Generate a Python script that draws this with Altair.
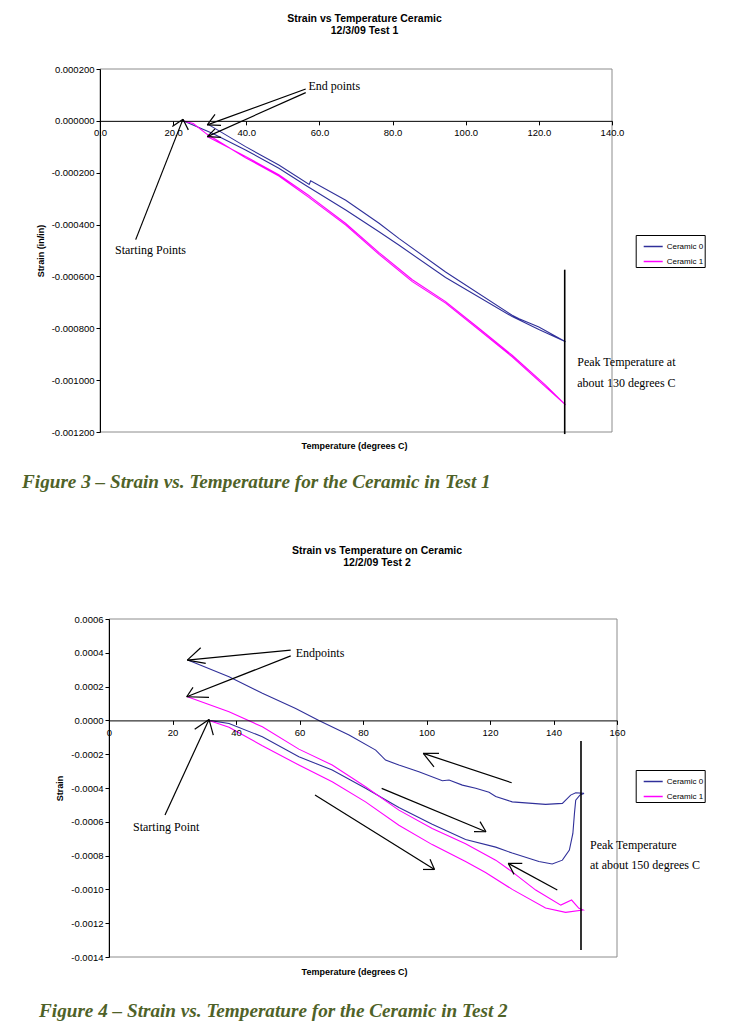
import altair as alt
import pandas as pd

SERIES = ["Ceramic 0", "Ceramic 1"]
COLORS = ["#30309a", "#ff00ff"]

# ---------------- Test 1 (12/3/09) ----------------
T1_C0_TEMP = [22.7, 30.7, 39.8, 48.9, 56.2, 67.2, 76.3, 81.8, 94.5, 112.7, 120.0, 127.3,
              120.0, 114.6, 112.7, 94.5, 81.8, 76.3, 67.2, 57.6, 57.2, 48.9, 39.8, 29.8]
T1_C0_STRAIN = [0.0, -0.000048, -0.000112, -0.000183, -0.000248, -0.000344, -0.000428, -0.00048,
                -0.000604, -0.000755, -0.000805, -0.000852,
                -0.000795, -0.000763, -0.00075, -0.000583, -0.000454, -0.000395, -0.000306,
                -0.000231, -0.000245, -0.00017, -0.0000994, -0.0000155]
T1_C1_TEMP = [22.7, 25.5, 29.3, 39.8, 48.9, 57.1, 67.2, 76.3, 85.4, 94.5, 103.6, 112.7, 121.9, 127.3,
              121.9, 112.7, 103.6, 94.5, 85.4, 76.3, 67.2, 58.0, 57.1, 48.9, 39.8, 29.3]
T1_C1_STRAIN = [0.0, -0.00001, -0.000052, -0.000142, -0.000213, -0.000295, -0.000402, -0.000515,
                -0.00062, -0.000703, -0.000806, -0.00091, -0.001027, -0.001095,
                -0.00102, -0.000904, -0.0008, -0.000697, -0.000613, -0.000508, -0.000396,
                -0.000298, -0.000288, -0.000208, -0.000137, -0.00006]
T1_X_TICKS = [0, 20, 40, 60, 80, 100, 120, 140]
T1_Y_TICKS = [0.0002, 0.0, -0.0002, -0.0004, -0.0006, -0.0008, -0.001, -0.0012]

# arrows: shafts and heads
T1_SEG_X = [56.25, 29.34, 29.34, 56.25, 29.34, 29.34, 9.76, 22.7, 22.7]
T1_SEG_Y = [0.000123, -0.0000155, -0.0000155, 0.000109, -0.0000607, -0.0000607, -0.000458, 0.0000066, 0.0000066]
T1_SEG_X2 = [29.34, 31.45, 33.09, 29.34, 31.45, 33.09, 22.7, 19.77, 24.15]
T1_SEG_Y2 = [-0.0000155, 0.0000251, -0.0000174, -0.0000607, -0.0000309, -0.0000638, 0.0000066, -0.000022, -0.0000348]
T1_PEAK = [127.07, -0.000574, -0.001208]
T1_NOTE_TEXT = ["End points", "Starting Points", "Peak Temperature at", "about 130 degrees C"]
T1_NOTE_X = [57.0, 4.1, 130.5, 130.5]
T1_NOTE_Y = [0.000135, -0.000499, -0.000931, -0.001011]

# ---------------- Test 2 (12/2/09) ----------------
T2_C0_TEMP = [31.5, 37.8, 48.3, 59.8, 70.3, 80.8, 91.3, 101.8, 112.3, 121.8, 127.0, 135.4, 139.6,
              142.8, 145.0, 146.1, 146.6, 147.0, 148.3, 149.6,
              147.0, 145.4, 142.8, 137.5, 127.0, 121.8, 119.7, 115.5, 111.3, 107.1, 105.0, 97.6,
              91.3, 87.1, 84.0, 75.6, 66.1, 58.8, 48.3, 37.8, 25.2]
T2_C0_STRAIN = [0.0, -0.000018, -0.000097, -0.000215, -0.000294, -0.000402, -0.000515, -0.000615,
                -0.000705, -0.00075, -0.000785, -0.000835, -0.00085,
                -0.000827, -0.000767, -0.000669, -0.00055, -0.000472, -0.000442, -0.000432,
                -0.000428, -0.000442, -0.000491, -0.000497, -0.000482, -0.00045, -0.000425,
                -0.000402, -0.000383, -0.000353, -0.000357, -0.000304, -0.000264, -0.000235,
                -0.000176, -0.000087, 0.0, 0.000071, 0.00016, 0.000258, 0.000355]
T2_C1_TEMP = [31.5, 37.8, 48.3, 59.8, 70.3, 80.8, 91.3, 101.8, 112.3, 118.6, 127.0, 137.5, 143.8, 149.3,
              148.0, 145.7, 142.3, 134.4, 127.0, 121.8, 112.3, 101.8, 91.3, 80.8, 70.3, 59.8, 48.3, 37.8, 24.7]
T2_C1_STRAIN = [0.0, -0.00004, -0.00015, -0.000264, -0.000363, -0.000482, -0.00062, -0.000735,
                -0.000835, -0.0009, -0.001, -0.00111, -0.001136, -0.001122,
                -0.001112, -0.001063, -0.001093, -0.001004, -0.000896, -0.000827, -0.00073,
                -0.00064, -0.000531, -0.000393, -0.000264, -0.00017, -0.000038, 0.000051, 0.00014]
T2_X_TICKS = [0, 20, 40, 60, 80, 100, 120, 140, 160]
T2_Y_TICKS = [0.0006, 0.0004, 0.0002, 0.0, -0.0002, -0.0004, -0.0006, -0.0008, -0.001, -0.0012, -0.0014]

T2_SEG_X = [57.23, 24.66, 24.66, 57.23, 24.47, 24.47, 17.64, 31.5, 31.5,
            126.83, 98.99, 98.99, 85.89, 118.74, 118.74, 64.88, 102.52, 102.52, 141.2, 125.76, 125.76]
T2_SEG_Y = [0.000416, 0.000357, 0.000357, 0.000382, 0.00014, 0.00014, -0.00056, 0.000006, 0.000006,
            -0.000369, -0.000195, -0.000195, -0.000402, -0.000659, -0.000659, -0.000442, -0.000882, -0.000882,
            -0.001004, -0.000846, -0.000846]
T2_SEG_X2 = [24.66, 28.88, 30.46, 24.47, 26.46, 31.5, 31.5, 26.99, 32.85,
             98.99, 103.94, 102.36, 118.74, 116.85, 114.96, 102.52, 101.1, 98.9, 125.76, 130.17, 127.56]
T2_SEG_Y2 = [0.000357, 0.00043, 0.000337, 0.00014, 0.000195, 0.000136, 0.000006, -0.000053, -0.000087,
             -0.000195, -0.000195, -0.000275, -0.000659, -0.000599, -0.000658, -0.000882, -0.000821, -0.000882,
             -0.000846, -0.000846, -0.000911]
T2_PEAK = [148.66, -0.000122, -0.001359]
T2_NOTE_TEXT = ["Endpoints", "Starting Point", "Peak Temperature", "at about 150 degrees C"]
T2_NOTE_X = [58.8, 7.56, 151.5, 151.5]
T2_NOTE_Y = [0.0004, -0.00063, -0.000738, -0.000856]

CAPTION_1 = "Figure 3 \u2013 Strain vs. Temperature for the Ceramic in Test 1"
CAPTION_2 = "Figure 4 \u2013 Strain vs. Temperature for the Ceramic in Test 2"

SANS = "Liberation Sans"
SERIF = "Liberation Serif"


def lines_frame(c0t, c0s, c1t, c1s):
    rows = []
    for name, ts, ss in [(SERIES[0], c0t, c0s), (SERIES[1], c1t, c1s)]:
        for i, (t, s) in enumerate(zip(ts, ss)):
            rows.append({"series": name, "idx": i, "x": t, "y": s})
    return pd.DataFrame(rows)


def panel(lines, segx, segy, segx2, segy2, peak, ntext, nx, ny, title_lines, title_dx, title_offset,
          title_size, caption, cap_x, cap_y, xmax, xticks, xfmt, yticks, ymin, ymax, yfmt, width, height,
          x0px, ytitle, ytitle_x, xtitle_y, legend_x, legend_y):
    xs = alt.Scale(domain=[0, xmax], range=[x0px, width], nice=False, zero=False)
    ys = alt.Scale(domain=[ymin, ymax], nice=False, zero=False)
    x_off = -height * (0 - ymin) / (ymax - ymin)
    xaxis = alt.Axis(values=xticks, format=xfmt, offset=x_off, title="Temperature (degrees C)",
                     titleX=254, titleY=xtitle_y, titleBaseline="middle", titleAlign="center",
                     labelFlush=False, labelPadding=3, zindex=1)
    yaxis = alt.Axis(values=yticks, labelExpr="replace(format(datum.value, '%s'), '\u2212', '-')" % yfmt,
                     offset=-x0px, title=ytitle, titleX=ytitle_x, titleY=height / 2,
                     titleAlign="center", titleBaseline="middle", labelFlush=False, zindex=1)
    X = alt.X("x:Q", scale=xs, axis=xaxis)
    Y = alt.Y("y:Q", scale=ys, axis=yaxis)

    box = alt.Chart(pd.DataFrame({"x": [0], "y": [ymin], "x2": [xmax], "y2": [ymax]})).mark_rect(
        fillOpacity=0, stroke="#8c8c8c", strokeWidth=1).encode(x=X, y=Y, x2="x2:Q", y2="y2:Q")

    ln = alt.Chart(lines).mark_line(strokeWidth=1.1).encode(
        x=X, y=Y, order="idx:Q",
        color=alt.Color("series:N", scale=alt.Scale(domain=SERIES, range=COLORS),
                        legend=alt.Legend(orient="none", legendX=legend_x, legendY=legend_y, title=None,
                                          symbolType="stroke", symbolSize=361, symbolStrokeWidth=1.5,
                                          symbolOffset=6, labelExpr="datum.label + '    '",
                                          labelFont=SANS, labelFontSize=8, labelColor="black",
                                          strokeColor="black", fillColor="white", padding=1,
                                          rowPadding=0, labelOffset=3)))

    seg = alt.Chart(pd.DataFrame({"x": segx, "y": segy, "x2": segx2, "y2": segy2})).mark_rule(
        color="black", strokeWidth=1.2).encode(x=X, y=Y, x2="x2:Q", y2="y2:Q")

    pk = alt.Chart(pd.DataFrame({"x": [peak[0]], "y": [peak[1]], "y2": [peak[2]]})).mark_rule(
        color="black", strokeWidth=1.6).encode(x=X, y=Y, y2="y2:Q")

    notes = alt.Chart(pd.DataFrame({"x": nx, "y": ny, "label": ntext})).mark_text(
        align="left", baseline="middle", font=SERIF, fontSize=12, color="black").encode(
        x=X, y=Y, text="label:N")

    cap = alt.Chart(pd.DataFrame({"label": [caption]})).mark_text(
        align="left", baseline="alphabetic", font=SERIF, fontSize=19.2, fontStyle="italic",
        fontWeight="bold", color="#4F6228").encode(x=alt.value(cap_x), y=alt.value(cap_y), text="label:N")

    return alt.layer(box, ln, seg, pk, notes, cap).properties(
        width=width, height=height,
        title=alt.TitleParams(text=title_lines, font=SANS, fontSize=title_size, fontWeight="bold",
                              anchor="middle", dx=title_dx, offset=title_offset, lineHeight=12,
                              color="black"))


c1 = panel(lines_frame(T1_C0_TEMP, T1_C0_STRAIN, T1_C1_TEMP, T1_C1_STRAIN),
           T1_SEG_X, T1_SEG_Y, T1_SEG_X2, T1_SEG_Y2, T1_PEAK, T1_NOTE_TEXT, T1_NOTE_X, T1_NOTE_Y,
           ["Strain vs Temperature Ceramic", "12/3/09 Test 1"], 8.5, 28, 10.5,
           CAPTION_1, -78, 419, 140, T1_X_TICKS, ".1f", T1_Y_TICKS, -0.0012, 0.0002, ".6f",
           512, 363, 0, "Strain (in/in)", -60, 325, 535.7, 166)

c2 = panel(lines_frame(T2_C0_TEMP, T2_C0_STRAIN, T2_C1_TEMP, T2_C1_STRAIN),
           T2_SEG_X, T2_SEG_Y, T2_SEG_X2, T2_SEG_Y2, T2_PEAK, T2_NOTE_TEXT, T2_NOTE_X, T2_NOTE_Y,
           ["Strain vs Temperature on Ceramic", "12/2/09 Test 2"], 18.5, 46, 10.5,
           CAPTION_2, -61, 398, 160, T2_X_TICKS, ".0f", T2_Y_TICKS, -0.0014, 0.0006, ".4f",
           517, 338, 9, "Strain", -50, 250.6, 535.7, 151)

chart = alt.vconcat(c1, c2, spacing=187, bounds="flush").resolve_scale(
    x="independent", y="independent", color="independent").resolve_axis(
    x="independent", y="independent").resolve_legend(color="independent").properties(
    padding={"left": 14, "top": 5, "right": 5, "bottom": 2}).configure_view(stroke=None).configure_axis(
    domainColor="black", tickColor="black", labelColor="black", titleColor="black",
    labelFont=SANS, titleFont=SANS, labelFontSize=9.5, titleFontSize=9, titleFontWeight="bold",
    grid=False, tickSize=4, labelPadding=2)

chart.save("out.html", embed_options={"renderer": "svg", "actions": False})
